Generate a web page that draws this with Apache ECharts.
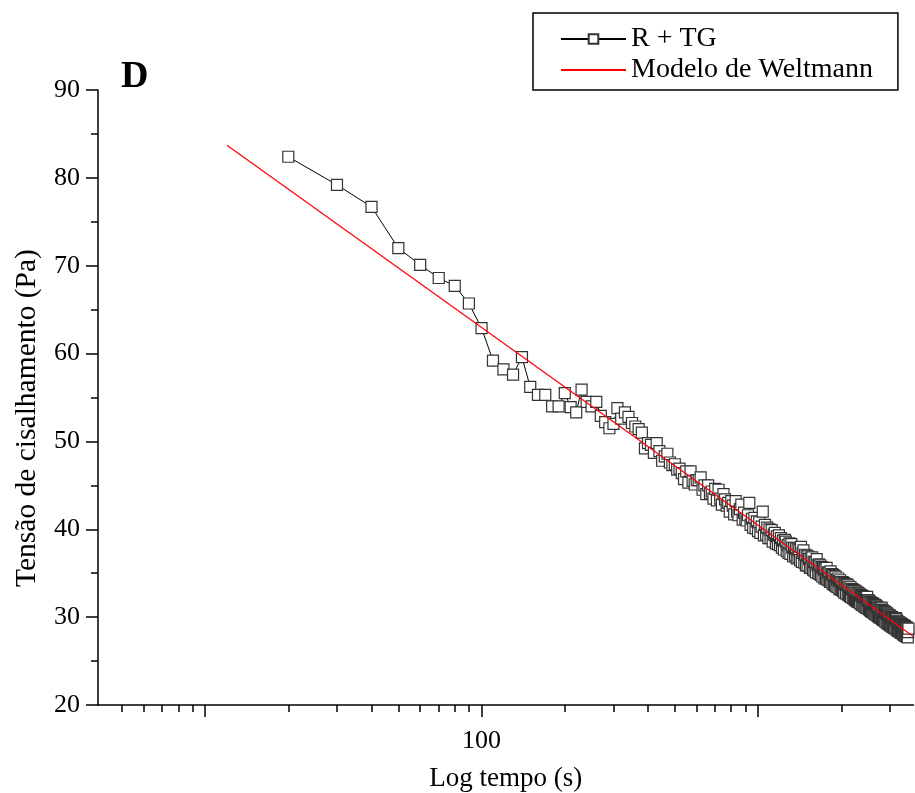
<!DOCTYPE html>
<html>
<head>
<meta charset="utf-8">
<script src="https://cdn.jsdelivr.net/npm/echarts@6/dist/echarts.min.js"></script>
<style>
  html, body { margin: 0; padding: 0; background: #fff; }
  #chart { width: 915px; height: 793px; }
</style>
</head>
<body>
<div id="chart"></div>
<script>
// tempo (s)
const times = [
  20, 30, 40, 50, 60, 70, 80, 90, 100,
  110, 120, 130, 140, 150, 160, 170, 180, 190, 200,
  210, 220, 230, 240, 250, 260, 270, 280, 290, 300,
  310, 320, 330, 340, 350, 360, 370, 380, 390, 400,
  410, 420, 430, 440, 450, 460, 470, 480, 490, 500,
  510, 520, 530, 540, 550, 560, 570, 580, 590, 600,
  610, 620, 630, 640, 650, 660, 670, 680, 690, 700,
  710, 720, 730, 740, 750, 760, 770, 780, 790, 800,
  810, 820, 830, 840, 850, 860, 870, 880, 890, 900,
  910, 920, 930, 940, 950, 960, 970, 980, 990, 1000,
  1010, 1020, 1030, 1040, 1050, 1060, 1070, 1080, 1090, 1100,
  1110, 1120, 1130, 1140, 1150, 1160, 1170, 1180, 1190, 1200,
  1210, 1220, 1230, 1240, 1250, 1260, 1270, 1280, 1290, 1300,
  1310, 1320, 1330, 1340, 1350, 1360, 1370, 1380, 1390, 1400,
  1410, 1420, 1430, 1440, 1450, 1460, 1470, 1480, 1490, 1500,
  1510, 1520, 1530, 1540, 1550, 1560, 1570, 1580, 1590, 1600,
  1610, 1620, 1630, 1640, 1650, 1660, 1670, 1680, 1690, 1700,
  1710, 1720, 1730, 1740, 1750, 1760, 1770, 1780, 1790, 1800,
  1810, 1820, 1830, 1840, 1850, 1860, 1870, 1880, 1890, 1900,
  1910, 1920, 1930, 1940, 1950, 1960, 1970, 1980, 1990, 2000,
  2010, 2020, 2030, 2040, 2050, 2060, 2070, 2080, 2090, 2100,
  2110, 2120, 2130, 2140, 2150, 2160, 2170, 2180, 2190, 2200,
  2210, 2220, 2230, 2240, 2250, 2260, 2270, 2280, 2290, 2300,
  2310, 2320, 2330, 2340, 2350, 2360, 2370, 2380, 2390, 2400,
  2410, 2420, 2430, 2440, 2450, 2460, 2470, 2480, 2490, 2500,
  2510, 2520, 2530, 2540, 2550, 2560, 2570, 2580, 2590, 2600,
  2610, 2620, 2630, 2640, 2650, 2660, 2670, 2680, 2690, 2700,
  2710, 2720, 2730, 2740, 2750, 2760, 2770, 2780, 2790, 2800,
  2810, 2820, 2830, 2840, 2850, 2860, 2870, 2880, 2890, 2900,
  2910, 2920, 2930, 2940, 2950, 2960, 2970, 2980, 2990, 3000,
  3010, 3020, 3030, 3040, 3050, 3060, 3070, 3080, 3090, 3100,
  3110, 3120, 3130, 3140, 3150, 3160, 3170, 3180, 3190, 3200,
  3210, 3220, 3230, 3240, 3250, 3260, 3270, 3280, 3290, 3300,
  3310, 3320, 3330, 3340, 3350, 3360, 3370, 3380, 3390, 3400,
  3410, 3420, 3430, 3440, 3450, 3460, 3470, 3480, 3490, 3500
];
// tensão de cisalhamento (Pa), R + TG
const stress = [
  82.4, 79.2, 76.7, 72.0, 70.1, 68.6, 67.7, 65.7, 62.9,
  59.2, 58.2, 57.6, 59.6, 56.2, 55.3, 55.3, 54.0, 54.0, 55.5,
  53.9, 53.3, 55.9, 54.5, 54.0, 54.5, 52.9, 52.2, 51.5, 52.0,
  53.8, 52.6, 53.3, 52.8, 52.1, 51.7, 51.4, 51.0, 49.2, 49.8,
  49.6, 48.7, 49.8, 48.9, 47.8, 48.3, 48.6, 47.6, 47.3, 47.4,
  46.8, 46.9, 46.4, 45.7, 46.6, 45.3, 46.6, 45.5, 45.1, 45.6,
  45.6, 45.9, 44.5, 45.0, 44.0, 45.0, 44.1, 44.3, 43.5, 44.6,
  43.3, 44.5, 43.5, 42.8, 44.0, 43.4, 42.7, 43.0, 42.0, 43.2,
  42.7, 41.7, 43.2, 42.0, 41.6, 42.3, 42.8, 41.1, 41.9, 41.2,
  41.0, 41.6, 43.0, 40.5, 41.2, 40.2, 41.3, 40.1, 40.9, 39.8,
  40.8, 39.6, 40.3, 42.0, 39.3, 40.5, 39.4, 40.2, 39.0, 40.0,
  39.0, 39.9, 38.6, 39.4, 39.6, 38.4, 39.2, 38.3, 39.3, 38.2,
  39.0, 37.9, 38.7, 37.7, 38.8, 38.6, 37.5, 38.2, 37.3, 38.4,
  37.2, 38.3, 37.9, 36.9, 37.9, 37.0, 37.8, 36.7, 37.7, 36.8,
  37.6, 36.5, 38.0, 36.3, 37.3, 37.6, 36.2, 37.1, 35.9, 37.0,
  35.9, 36.9, 36.6, 35.6, 36.7, 35.6, 36.8, 35.4, 36.3, 35.3,
  36.2, 35.1, 36.6, 35.9, 35.0, 36.0, 34.9, 35.9, 34.8, 35.7,
  34.6, 35.6, 35.4, 34.4, 35.5, 34.4, 35.6, 34.3, 35.1, 34.2,
  35.1, 34.0, 35.2, 34.0, 34.9, 33.8, 34.8, 33.7, 34.7, 33.6,
  34.6, 33.5, 34.3, 33.4, 34.4, 34.1, 33.2, 34.2, 33.2, 34.0,
  33.1, 34.0, 33.0, 33.9, 32.8, 33.8, 33.7, 32.7, 33.7, 33.7,
  32.6, 33.6, 32.5, 33.4, 32.4, 33.4, 32.3, 33.2, 33.2, 32.2,
  33.1, 32.1, 33.0, 32.0, 33.0, 31.9, 32.8, 31.8, 32.8, 31.8,
  32.7, 31.7, 32.6, 31.6, 32.5, 32.5, 31.4, 32.4, 31.4, 32.3,
  31.3, 32.3, 31.2, 32.2, 31.1, 32.1, 31.1, 32.3, 31.0, 31.9,
  31.9, 30.9, 31.8, 30.8, 31.7, 30.7, 31.6, 30.6, 31.6, 30.6,
  31.5, 30.5, 31.4, 30.4, 31.4, 30.3, 31.3, 30.3, 31.2, 30.2,
  31.1, 30.1, 31.0, 30.0, 31.0, 30.0, 30.9, 29.9, 31.1, 31.0,
  29.8, 30.8, 29.7, 30.7, 29.7, 30.6, 29.6, 30.6, 29.5, 30.4,
  30.5, 29.4, 30.4, 29.3, 30.3, 29.3, 30.2, 29.2, 30.2, 29.1,
  30.1, 29.1, 30.0, 29.0, 30.0, 28.9, 29.9, 28.9, 29.9, 28.8,
  29.8, 28.8, 29.7, 28.7, 29.9, 29.8, 28.6, 29.6, 28.5, 29.5,
  28.5, 29.4, 28.4, 29.4, 28.4, 29.3, 28.3, 29.3, 28.2, 29.2,
  29.2, 28.2, 29.1, 28.1, 29.1, 28.0, 29.0, 28.0, 29.0, 27.9,
  28.9, 27.9, 28.8, 27.8, 28.8, 27.8, 28.7, 27.7, 28.3, 28.7
];
// Modelo de Weltmann (reta em escala log)
const modelTimes = [12, 3650];
const modelStress = [83.7, 27.8];

const xMajorTicks = [10, 100, 1000];
const xMinorTicks = [5, 6, 7, 8, 9, 20, 30, 40, 50, 60, 70, 80, 90,
  200, 300, 400, 500, 600, 700, 800, 900, 2000, 3000];
const xLabelValues = [100];

const font = 'Liberation Serif';
const black = '#000';

const chart = echarts.init(document.getElementById('chart'));
const gridBox = { left: 98, right: 1.5, top: 90, bottom: 88, outerBoundsMode: 'none' };

const option = {
  animation: false,
  backgroundColor: '#fff',
  grid: [Object.assign({}, gridBox), Object.assign({}, gridBox)],
  legend: {
    orient: 'vertical',
    left: 533,
    top: 13,
    padding: [12, 25, 6, 27],
    itemGap: 3,
    itemWidth: 65,
    itemHeight: 12,
    borderColor: black,
    borderWidth: 1.5,
    selectedMode: false,
    textStyle: { fontFamily: font, fontSize: 28, color: black },
    data: [
      { name: 'R + TG' },
      { name: 'Modelo de Weltmann', itemStyle: { opacity: 0 } }
    ]
  },
  xAxis: [
    {
      type: 'log',
      gridIndex: 0,
      min: 4.1,
      max: 3650,
      name: 'Log tempo (s)',
      nameLocation: 'middle',
      nameGap: 60,
      nameTextStyle: { fontFamily: font, fontSize: 27, color: black },
      axisLine: { lineStyle: { color: black, width: 1.5 } },
      axisTick: { customValues: xMajorTicks, length: 12, lineStyle: { color: black, width: 1.5 } },
      axisLabel: { customValues: xLabelValues, margin: 23, fontFamily: font, fontSize: 26, color: black },
      splitLine: { show: false }
    },
    {
      // minor ticks
      type: 'log',
      gridIndex: 1,
      min: 4.1,
      max: 3650,
      axisLine: { show: false },
      axisTick: { customValues: xMinorTicks, length: 7, lineStyle: { color: black, width: 1.5 } },
      axisLabel: { show: false },
      splitLine: { show: false }
    }
  ],
  yAxis: [
    {
      type: 'value',
      gridIndex: 0,
      min: 20,
      max: 90,
      interval: 10,
      axisLine: { show: true, lineStyle: { color: black, width: 1.5 } },
      axisTick: { show: true, length: 12, lineStyle: { color: black, width: 1.5 } },
      minorTick: { show: true, splitNumber: 2, length: 7, lineStyle: { color: black, width: 1.5 } },
      axisLabel: { margin: 18, fontFamily: font, fontSize: 26, color: black },
      splitLine: { show: false }
    },
    { type: 'value', gridIndex: 1, min: 20, max: 90, show: false }
  ],
  graphic: [
    {
      type: 'text',
      x: 27,
      y: 418,
      rotation: Math.PI / 2,
      style: {
        text: 'Tensão de cisalhamento (Pa)',
        fontFamily: font,
        fontSize: 29.5,
        fill: black,
        align: 'center',
        verticalAlign: 'middle'
      }
    },
    {
      type: 'text',
      left: 121,
      top: 58,
      style: { text: 'D', fontFamily: font, fontSize: 38, fontWeight: 'bold', fill: black }
    }
  ],
  series: [
    {
      name: 'R + TG',
      type: 'line',
      xAxisIndex: 0,
      yAxisIndex: 0,
      data: times.map((t, i) => [t, stress[i]]),
      symbol: 'rect',
      symbolSize: 11,
      lineStyle: { color: black, width: 1 },
      itemStyle: { color: '#fff', borderColor: '#333', borderWidth: 1.2 },
      z: 2
    },
    {
      name: 'Modelo de Weltmann',
      type: 'line',
      xAxisIndex: 0,
      yAxisIndex: 0,
      data: modelTimes.map((t, i) => [t, modelStress[i]]),
      symbol: 'none',
      lineStyle: { color: '#ff0000', width: 1.2 },
      itemStyle: { color: '#ff0000' },
      z: 3
    }
  ]
};

chart.setOption(option);
</script>
</body>
</html>
